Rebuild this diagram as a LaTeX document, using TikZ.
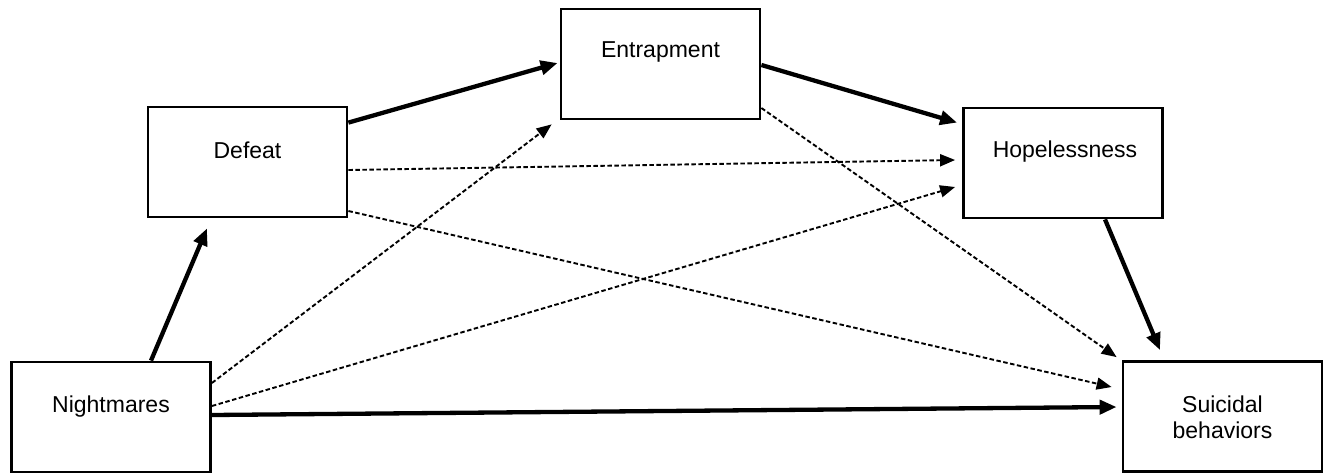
\documentclass[tikz,border=0pt]{standalone}
\usepackage{fontspec}
\setmainfont{Liberation Sans}
\usetikzlibrary{arrows.meta,calc}
\tikzset{
  box/.style={draw=black, line width=2.8pt, minimum width=199pt, minimum height=110pt, inner sep=0pt, fill=white},
  lbl/.style={font=\fontsize{23}{26}\selectfont, align=center, text=black},
  strong/.style={line width=4.3pt, -{Triangle[length=17pt,width=14pt]}},
  weak/.style={line width=1.9pt, dash pattern=on 4.5pt off 2.5pt, -{Triangle[length=15pt,width=12pt]}},
}
\begin{document}
\begin{tikzpicture}[x=1pt,y=-1pt]
\useasboundingbox[fill=white] (0,0) rectangle (1325,474);
\node[box] (nm) at (111,417) {};
\node[box] (df) at (247.5,162) {};
\node[box] (en) at (660.5,64) {};
\node[box] (hp) at (1063,163) {};
\node[box] (sb) at (1222.5,416.5) {};
\node[lbl] (nmt) at ($(nm.center)+(0,-10)$) {Nightmares};
\node[lbl] (dft) at ($(df.center)+(0,-12)$) {Defeat};
\node[lbl] (ent) at ($(en.center)+(0,-12)$) {Entrapment};
\node[lbl] (hpt) at ($(hp.center)+(2,-11)$) {Hopelessness};
\node[lbl] (sbt) at ($(sb.center)+(0,1)$) {Suicidal\\behaviors};
% strong paths
\draw[strong] ($(nm.north)+(40,0)$) -- ($(df.south)+(-40.5,10)$);
\draw[strong] ($(df.north east)+(0,17)$) -- ($(en.west)+(-2,-1)$);
\draw[strong] ($(en.east)+(0,1)$) -- ($(hp.north west)+(-5,16)$);
\draw[strong] ($(hp.south)+(42,0)$) -- ($(sb.north)+(-62.5,-10)$);
\draw[strong] ($(nm.east)+(0,-2)$) -- ($(sb.west)+(-5,-9.5)$);
% weak paths
\draw[weak] ($(nm.east)+(0,-34)$) -- ($(en.south west)+(-8,4)$);
\draw[weak] ($(nm.east)+(0,-11)$) -- ($(hp.west)+(-7,24)$);
\draw[weak] ($(df.east)+(0,8)$) -- ($(hp.west)+(-7,-3)$);
\draw[weak] ($(df.east)+(0,49)$) -- ($(sb.west)+(-10,-29.5)$);
\draw[weak] ($(en.east)+(0,44)$) -- ($(sb.north west)+(-5,-3)$);
\end{tikzpicture}
\end{document}
